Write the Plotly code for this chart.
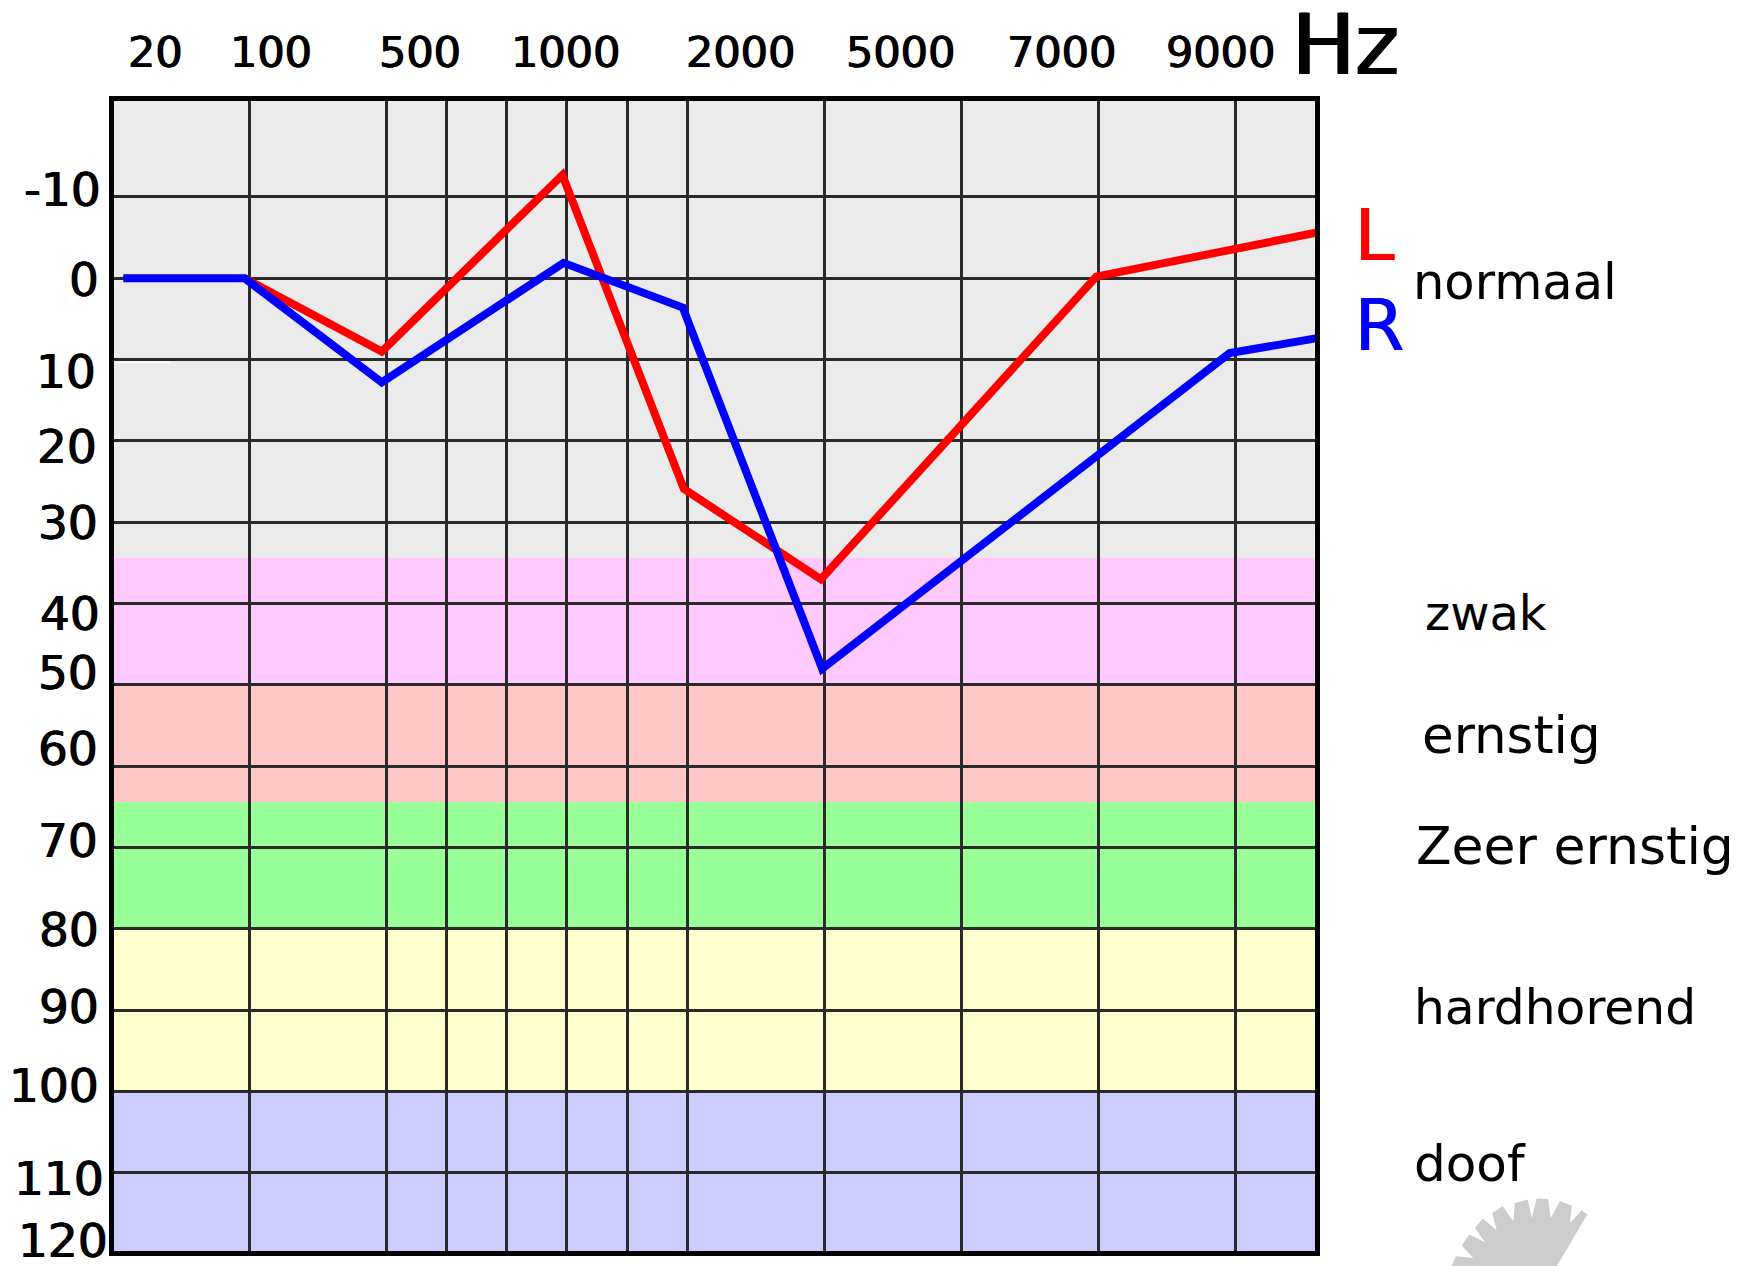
import plotly.graph_objects as go

# ---- data ----
freq_labels = ["20", "100", "500", "1000", "2000", "5000", "7000", "9000"]
db_labels = ["-10", "0", "10", "20", "30", "40", "50", "60", "70", "80", "90", "100", "110", "120"]
grid_x = [1, 2, 2.44, 2.88, 3.32, 3.76, 4.2, 5.2, 6.2, 7.2, 8.2]
grid_db = [-10, 0, 10, 20, 30, 40, 50, 60, 70, 80, 90, 100, 110]
left_x = [0.967, 1.968, 3.287, 4.174, 5.175, 7.186, 8.82]
left_db = [0, 9, -12.7, 25.9, 37, -0.2, -5.7]
right_x = [0.08, 0.967, 1.968, 3.295, 4.166, 5.184, 8.16, 8.82]
right_db = [0, 0, 12.8, -1.9, 3.6, 48, 9.2, 7.3]
band_names = ["normaal", "zwak", "ernstig", "Zeer ernstig", "hardhorend", "doof"]
band_limits = [-21.8, 34.34, 50, 64.38, 80, 100, 119.6]

# ---- layout / style ----
W, H = 1746, 1266
L, R, T, B = 114, 1315, 100.5, 1250.7
X_MIN, X_MAX = 0.0125, 8.783
band_colors = ["#ebebeb", "#ffc8ff", "#ffc8c8", "#99ff99", "#ffffd0", "#ccccff"]
FONT = "DejaVu Sans"
HEAVY = "0.6px 0 0 #000, -0.6px 0 0 #000"

def fx(x):
    return (x - L) / (R - L)
def fy(y):
    return (B - y) / (B - T)

fig = go.Figure()
fig.add_trace(go.Scatter(x=left_x, y=left_db, mode="lines", name="L", cliponaxis=False,
                         line=dict(color="#ff0000", width=8), hoverinfo="skip"))
fig.add_trace(go.Scatter(x=right_x, y=right_db, mode="lines", name="R", cliponaxis=False,
                         line=dict(color="#0000ff", width=8), hoverinfo="skip"))

shapes = []
for lo, hi, col in zip(band_limits[:-1], band_limits[1:], band_colors):
    shapes.append(dict(type="rect", xref="x", yref="y", x0=X_MIN, x1=X_MAX, y0=lo, y1=hi,
                       fillcolor=col, line_width=0, layer="below"))
# black chart frame, drawn over the grid and under the audiogram lines
shapes.append(dict(type="rect", xref="paper", yref="paper",
                   x0=fx(L - 2.5), x1=fx(R + 2.5), y0=fy(B + 2.5), y1=fy(T - 2.5),
                   line=dict(color="#000000", width=5), fillcolor="rgba(0,0,0,0)", layer="between"))
# faint light artefact under the 10 dB line
shapes.append(dict(type="line", xref="x", yref="y", x0=0.02, x1=0.42, y0=10.35, y1=10.35,
                   line=dict(color="#ffffff", width=1.5), layer="above"))
# grey cog watermark cut by the bottom of the picture
cog = [(1451.7,1266),(1456,1256),(1473.3,1257.7),(1461.7,1245.3),(1469.3,1234.3),(1485,1242),
       (1475,1227.7),(1482.7,1218.3),(1496.7,1230),(1492.3,1212.7),(1502.7,1206),(1513.3,1221),
       (1515,1202.7),(1527.7,1199.3),(1531.7,1217.7),(1536.7,1198.3),(1548.3,1198.7),
       (1550.7,1217.7),(1560,1201),(1571.7,1205.3),(1570,1222.7),(1581.7,1210),(1587.3,1214.3),
       (1556.7,1266)]
path = "M " + " L ".join(f"{fx(x):.5f} {fy(y):.5f}" for x, y in cog) + " Z"
shapes.append(dict(type="path", xref="paper", yref="paper", path=path,
                   fillcolor="#cccccc", line_width=0, layer="above"))

anns = []
def text(s, x, y, size, color="#000000", anchor="left", shadow="none"):
    anns.append(dict(text=s, xref="paper", yref="paper", x=fx(x), y=fy(y), showarrow=False,
                     xanchor=anchor, yanchor="middle", align="left", borderpad=0,
                     font=dict(family=FONT, size=size, color=color, shadow=shadow)))

top_px = [155, 271, 420, 565, 740, 900, 1061, 1220]
for s, x in zip(freq_labels, top_px):
    text(s, x, 51, 43, anchor="center", shadow=HEAVY)
left_px = [(102, 189), (100, 279), (97, 371), (98, 446), (99, 522), (101, 613), (99, 672),
           (99, 748), (99, 840), (100, 929), (100, 1006), (100, 1085), (105, 1178), (109, 1240)]
for s, (x, y) in zip(db_labels, left_px):
    text(s, x, y, 47, anchor="right", shadow=HEAVY)
band_px = [(1412, 282), (1424, 613), (1421, 735), (1415, 846), (1413, 1007), (1413, 1164)]
band_size = [49.5, 48, 51.5, 52, 48.7, 50]
for s, (x, y), z in zip(band_names, band_px, band_size):
    text(s, x, y, z)
text("Hz", 1291, 44, 84, shadow="1.2px 0 0 #000, -1.2px 0 0 #000")
text("L", 1353, 235, 72, color="#ff0000", shadow="1px 0 0 #f00")
text("R", 1353, 325, 72, color="#0000ff", shadow="1px 0 0 #00f")

fig.update_layout(
    width=W, height=H, autosize=False,
    margin=dict(l=L, r=W-R, t=T, b=H-B, pad=0),
    paper_bgcolor="#ffffff", plot_bgcolor="#ffffff",
    showlegend=False, shapes=shapes, annotations=anns,
    xaxis=dict(range=[X_MIN, X_MAX], tickmode="array", tickvals=grid_x, showticklabels=False,
               ticks="", showgrid=True, gridcolor="#2a2a2a", gridwidth=3, zeroline=False,
               showline=False),
    yaxis=dict(range=[119.6, -21.8], tickmode="array", tickvals=grid_db, showticklabels=False,
               ticks="", showgrid=True, gridcolor="#2a2a2a", gridwidth=3, zeroline=False,
               showline=False),
)
fig.write_html("out.html", config={"displayModeBar": False},
               post_script="document.body.style.margin='0';document.body.style.overflow='hidden';")
